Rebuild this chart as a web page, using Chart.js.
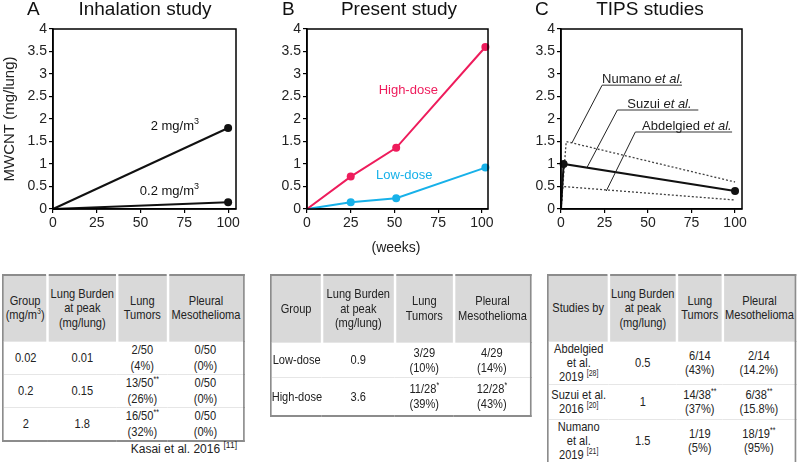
<!DOCTYPE html>
<html>
<head>
<meta charset="utf-8">
<script src="https://cdn.jsdelivr.net/npm/chart.js@4.4.1/dist/chart.umd.min.js"></script>
<style>
body { margin: 0; background: #fff; font-family: Arial, "Liberation Sans", sans-serif; color: #222; }
#wrap { position: relative; width: 797px; height: 462px; overflow: hidden; }
canvas { position: absolute; top: 0; }
.ttl { position: absolute; top: -1px; font-size: 19px; line-height: 20px; white-space: nowrap; color: #111; }
.ttl.c { text-align: center; width: 200px; }
#weeks { position: absolute; left: 346px; top: 239px; width: 100px; text-align: center; font-size: 14px; }
table { position: absolute; border-collapse: collapse; border: 2px solid #8c8c8c; font-size: 13.5px; table-layout: fixed; transform: scaleX(0.82); transform-origin: 0 0; }
th { background: #d9d9d9; font-weight: normal; border-left: 3px solid #fff; line-height: 14.5px; padding: 0; }
th:first-child { border-left: none; }
td { text-align: center; border-top: 1px solid #e6e6e6; padding: 0; white-space: nowrap; }
sup { font-size: 8.5px; line-height: 0; vertical-align: 5px; }
#kasai { position: absolute; right: 560px; top: 442px; font-size: 12px; white-space: nowrap; }
</style>
</head>
<body>
<div id="wrap">
    <canvas id="chart-a" width="260" height="240" style="left:0px"></canvas>
    <canvas id="chart-b" width="250" height="240" style="left:262px"></canvas>
    <canvas id="chart-c" width="270" height="240" style="left:520px"></canvas>

    <div class="ttl" style="left:27px">A</div>
    <div class="ttl c" style="left:45px">Inhalation study</div>
    <div class="ttl" style="left:282px">B</div>
    <div class="ttl c" style="left:299px">Present study</div>
    <div class="ttl" style="left:535px">C</div>
    <div class="ttl c" style="left:550px">TIPS studies</div>
    <div id="weeks">(weeks)</div>

    <table id="table-a" style="left:2px;top:274px"></table>
    <table id="table-b" style="left:270px;top:274px"></table>
    <table id="table-c" style="left:547px;top:274px"></table>
    <div id="kasai">Kasai et al. 2016 <sup>[11]</sup></div>
</div>
<script>
// axis ticks
const xTicks = [0, 25, 50, 75, 100];
const yTicks = [0, 0.5, 1, 1.5, 2, 2.5, 3, 3.5, 4];

// A - inhalation study
const weeksA = [0, 100];
const inhal2mg = [0, 1.8];
const inhal02mg = [0, 0.15];

// B - present study
const weeksB = [0, 25, 51, 102];
const highDose = [0, 0.72, 1.36, 3.6];
const lowDose = [0, 0.15, 0.24, 0.92];

// C - TIPS studies
const suzuiWeeks = [0, 1.5, 100];
const suzuiBurden = [0, 1, 0.4];
const numanoWeeks = [0, 3, 100];
const numanoBurden = [0, 1.5, 0.6];
const abdelWeeks = [0, 1, 100];
const abdelBurden = [0, 0.5, 0.2];

// tables
const tableHeadA = ['Group<br>(mg/m<sup>3</sup>)', 'Lung Burden<br>at peak<br>(mg/lung)', 'Lung<br>Tumors', 'Pleural<br>Mesothelioma'];
const tableRowsA = [
    ['0.02', '0.01', '2/50<br>(4%)', '0/50<br>(0%)'],
    ['0.2', '0.15', '13/50<sup>**</sup><br>(26%)', '0/50<br>(0%)'],
    ['2', '1.8', '16/50<sup>**</sup><br>(32%)', '0/50<br>(0%)']
];
const tableHeadB = ['Group', 'Lung Burden<br>at peak<br>(mg/lung)', 'Lung<br>Tumors', 'Pleural<br>Mesothelioma'];
const tableRowsB = [
    ['Low-dose', '0.9', '3/29<br>(10%)', '4/29<br>(14%)'],
    ['High-dose', '3.6', '11/28<sup>*</sup><br>(39%)', '12/28<sup>*</sup><br>(43%)']
];
const tableHeadC = ['Studies by', 'Lung Burden<br>at peak<br>(mg/lung)', 'Lung<br>Tumors', 'Pleural<br>Mesothelioma'];
const tableRowsC = [
    ['Abdelgied<br>et al.<br>2019 <sup>[28]</sup>', '0.5', '6/14<br>(43%)', '2/14<br>(14.2%)'],
    ['Suzui et al.<br>2016 <sup>[20]</sup>', '1', '14/38<sup>**</sup><br>(37%)', '6/38<sup>**</sup><br>(15.8%)'],
    ['Numano<br>et al.<br>2019 <sup>[21]</sup>', '1.5', '1/19<br>(5%)', '18/19<sup>**</sup><br>(95%)']
];

const FONT = 'Arial, "Liberation Sans", sans-serif';
const SQ = 0.82;   // tables are drawn a little narrow, as in the figure

function pts(xs, ys) {
    return xs.map((x, i) => ({ x: x, y: ys[i] }));
}

function buildTable(id, head, rows, colW, headH, rowH, lineH) {
    const t = document.getElementById(id);
    const total = colW.reduce((a, b) => a + b, 0);
    t.style.width = (total / SQ) + 'px';
    let html = '<colgroup>' + colW.map(w => '<col style="width:' + (w / SQ) + 'px">').join('') + '</colgroup>';
    html += '<tr style="height:' + headH + 'px">' + head.map(h => '<th>' + h + '</th>').join('') + '</tr>';
    rows.forEach((r, i) => {
        html += '<tr style="height:' + rowH[i] + 'px;line-height:' + lineH + 'px">' +
            r.map(c => '<td>' + c + '</td>').join('') + '</tr>';
    });
    t.innerHTML = html;
}

buildTable('table-a', tableHeadA, tableRowsA, [45, 69, 51, 76], 66, [32, 32, 31], 16);
buildTable('table-b', tableHeadB, tableRowsB, [51, 73, 59, 77], 67, [35, 39], 15);
buildTable('table-c', tableHeadC, tableRowsC, [61, 68, 46, 73], 66, [42, 35, 43], 14);

// box round the plot area
const frame = {
    id: 'frame',
    afterDraw(chart) {
        const { ctx, chartArea: a } = chart;
        ctx.save();
        ctx.strokeStyle = '#000';
        ctx.lineWidth = 1.5;
        ctx.strokeRect(a.left, a.top, a.right - a.left, a.bottom - a.top);
        ctx.restore();
    }
};

// text with a superscript, right aligned at x
function supLabel(ctx, x, y, main, sup, color) {
    ctx.fillStyle = color;
    ctx.textBaseline = 'middle';
    ctx.textAlign = 'left';
    ctx.font = '13px ' + FONT;
    const w1 = ctx.measureText(main).width;
    ctx.font = '9px ' + FONT;
    const w2 = sup ? ctx.measureText(sup).width : 0;
    const x0 = x - w1 - w2;
    ctx.font = '13px ' + FONT;
    ctx.fillText(main, x0, y);
    if (sup) {
        ctx.font = '9px ' + FONT;
        ctx.fillText(sup, x0 + w1, y - 5);
    }
}

function notesPlugin(draw) {
    return {
        id: 'notes',
        afterDatasetsDraw(chart) {
            const ctx = chart.ctx;
            ctx.save();
            draw(ctx, chart.scales.x, chart.scales.y);
            ctx.restore();
        }
    };
}

function makeChart(id, datasets, opts) {
    const tickFont = { size: 14, family: FONT };
    return new Chart(document.getElementById(id), {
        type: 'line',
        data: { datasets: datasets },
        options: {
            responsive: false,
            animation: false,
            layout: { padding: { top: 29, right: opts.padRight, bottom: 0, left: 0 } },
            plugins: { legend: { display: false }, tooltip: { enabled: false } },
            scales: {
                x: {
                    type: 'linear',
                    min: 0,
                    max: opts.xMax,
                    afterBuildTicks: s => { s.ticks = xTicks.map(v => ({ value: v })); },
                    afterFit: s => { s.height = 31; },
                    ticks: { font: tickFont, color: '#222', padding: 2, maxRotation: 0, callback: v => String(v) },
                    grid: { drawOnChartArea: false, tickLength: 4, color: '#000', lineWidth: 1.2 },
                    border: { color: '#000', width: 1.5 }
                },
                y: {
                    min: 0,
                    max: 4,
                    afterBuildTicks: s => { s.ticks = yTicks.map(v => ({ value: v })); },
                    afterFit: s => { s.width = opts.axisW; },
                    ticks: { font: tickFont, color: '#222', padding: 2, callback: v => String(v) },
                    grid: { drawOnChartArea: false, tickLength: 4, color: '#000', lineWidth: 1.2 },
                    border: { color: '#000', width: 1.5 },
                    title: {
                        display: !!opts.yTitle,
                        text: opts.yTitle || '',
                        color: '#222',
                        font: { size: 15, family: FONT },
                        padding: { top: 1, bottom: 0 }
                    }
                }
            }
        },
        plugins: [frame, notesPlugin(opts.notes)]
    });
}

// A
makeChart('chart-a', [
    { data: pts(weeksA, inhal2mg), borderColor: '#111', borderWidth: 2, pointRadius: [0, 4], pointBackgroundColor: '#111', pointBorderWidth: 0, clip: false },
    { data: pts(weeksA, inhal02mg), borderColor: '#111', borderWidth: 2, pointRadius: [0, 4], pointBackgroundColor: '#111', pointBorderWidth: 0, clip: false }
], {
    xMax: 104.5, axisW: 53, padRight: 24, yTitle: 'MWCNT (mg/lung)',
    notes: (ctx, x, y) => {
        supLabel(ctx, x.getPixelForValue(83.4), y.getPixelForValue(1.84), '2 mg/m', '3', '#111');
        supLabel(ctx, x.getPixelForValue(83.4), y.getPixelForValue(0.38), '0.2 mg/m', '3', '#111');
    }
});

// B
const pink = '#ee1c5c';
const cyan = '#17b1e9';
makeChart('chart-b', [
    { data: pts(weeksB, highDose), borderColor: pink, borderWidth: 2, pointRadius: [0, 4, 4, 4], pointBackgroundColor: pink, pointBorderWidth: 0, clip: false },
    { data: pts(weeksB, lowDose), borderColor: cyan, borderWidth: 2, pointRadius: [0, 4, 4, 4], pointBackgroundColor: cyan, pointBorderWidth: 0, clip: false }
], {
    xMax: 103.5, axisW: 45, padRight: 24,
    notes: (ctx, x, y) => {
        ctx.font = '13px ' + FONT;
        ctx.textAlign = 'center';
        ctx.textBaseline = 'middle';
        ctx.fillStyle = pink;
        ctx.fillText('High-dose', x.getPixelForValue(57.9), y.getPixelForValue(2.63));
        ctx.fillStyle = cyan;
        ctx.fillText('Low-dose', x.getPixelForValue(55.6), y.getPixelForValue(0.74));
    }
});

// C
const calloutsC = [
    { name: 'Numano', tx: 23.6, u0: 23.6, u1: 69.5, uy: 2.75, px: 6.3, py: 1.47 },
    { name: 'Suzui', tx: 38.1, u0: 32.4, u1: 78.9, uy: 2.2, px: 14.9, py: 0.92 },
    { name: 'Abdelgied', tx: 46.6, u0: 42.7, u1: 98.3, uy: 1.71, px: 26, py: 0.4 }
];
makeChart('chart-c', [
    { data: pts(suzuiWeeks, suzuiBurden), borderColor: '#111', borderWidth: 2, pointRadius: [0, 4, 4], pointBackgroundColor: '#111', pointBorderWidth: 0, clip: false },
    { data: pts(numanoWeeks, numanoBurden), borderColor: '#444', borderWidth: 1.3, borderDash: [2, 2], pointRadius: 0, clip: false },
    { data: pts(abdelWeeks, abdelBurden), borderColor: '#444', borderWidth: 1.3, borderDash: [2, 2], pointRadius: 0, clip: false }
], {
    xMax: 104, axisW: 41, padRight: 48,
    notes: (ctx, x, y) => {
        calloutsC.forEach(c => {
            const uy = y.getPixelForValue(c.uy);
            // underline
            ctx.strokeStyle = '#777';
            ctx.lineWidth = 1.6;
            ctx.beginPath();
            ctx.moveTo(x.getPixelForValue(c.u0), uy);
            ctx.lineTo(x.getPixelForValue(c.u1), uy);
            ctx.stroke();
            // leader
            ctx.strokeStyle = '#222';
            ctx.lineWidth = 1;
            ctx.beginPath();
            ctx.moveTo(x.getPixelForValue(c.u0), uy);
            ctx.lineTo(x.getPixelForValue(c.px), y.getPixelForValue(c.py));
            ctx.stroke();
            // name + italic et al.
            ctx.fillStyle = '#222';
            ctx.textAlign = 'left';
            ctx.textBaseline = 'alphabetic';
            ctx.font = '13px ' + FONT;
            const tx = x.getPixelForValue(c.tx);
            ctx.fillText(c.name + ' ', tx, uy - 2);
            const w = ctx.measureText(c.name + ' ').width;
            ctx.font = 'italic 13px ' + FONT;
            ctx.fillText('et al.', tx + w, uy - 2);
        });
    }
});
</script>
</body>
</html>
